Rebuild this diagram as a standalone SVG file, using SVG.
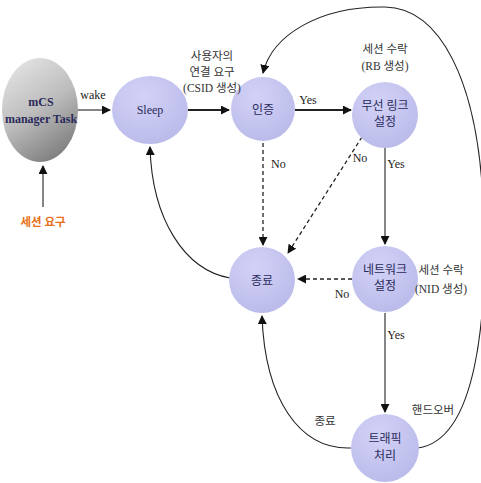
<svg xmlns="http://www.w3.org/2000/svg" width="481" height="483" viewBox="0 0 481 483">
<defs>
<radialGradient id="gs" cx="0.4" cy="0.3" r="0.75">
<stop offset="0" stop-color="#d2d2f7"/>
<stop offset="1" stop-color="#babaea"/>
</radialGradient>
<linearGradient id="gg" x1="0.2" y1="0" x2="0.7" y2="1">
<stop offset="0" stop-color="#e4e4e4"/>
<stop offset="0.5" stop-color="#bdbdbd"/>
<stop offset="1" stop-color="#7c7c7c"/>
</linearGradient>
<marker id="ah" viewBox="0 0 10 10" refX="9" refY="5" markerWidth="9" markerHeight="9" markerUnits="userSpaceOnUse" orient="auto">
<path d="M0,0 L10,5 L0,10 z" fill="#111"/>
</marker>
</defs>
<style>
.n{fill:url(#gs);}
.e{fill:none;stroke:#222;stroke-width:1.1;}
.eb{fill:none;stroke:#222;stroke-width:1.8;}
.d{fill:none;stroke:#222;stroke-width:1.3;stroke-dasharray:4,3;}
.t{font-family:"Liberation Serif","Noto Sans CJK KR",serif;font-size:12px;fill:#222;text-anchor:middle;}
.k{font-family:"Liberation Serif","Noto Sans CJK KR",serif;font-size:11.5px;fill:#333;text-anchor:middle;}
.nt{font-family:"Liberation Serif","Noto Sans CJK KR",serif;font-size:12px;fill:#2a2a5a;text-anchor:middle;}
.nk{font-family:"Liberation Serif","Noto Sans CJK KR",serif;font-size:12px;fill:#2a2a5a;text-anchor:middle;}
</style>
<g id="connectors">
<line class="e" x1="43" y1="207" x2="43" y2="166" marker-end="url(#ah)"/>
<line class="e" x1="78" y1="110" x2="110" y2="110" marker-end="url(#ah)"/>
<line class="eb" x1="188" y1="110" x2="229" y2="110" marker-end="url(#ah)"/>
<line class="eb" x1="295" y1="110" x2="351" y2="110" marker-end="url(#ah)"/>
<line class="e" x1="385" y1="148" x2="385" y2="244" marker-end="url(#ah)"/>
<line class="e" x1="385" y1="313" x2="385" y2="412" marker-end="url(#ah)"/>
<line class="d" x1="263" y1="143" x2="263" y2="245" marker-end="url(#ah)"/>
<line class="d" x1="362" y1="137" x2="288" y2="253" marker-end="url(#ah)"/>
<line class="d" x1="352" y1="279" x2="298" y2="279" marker-end="url(#ah)"/>
<path class="e" d="M230,278 C185,270 152,220 150,147" marker-end="url(#ah)"/>
<path class="e" d="M351,448 C300,450 265,400 262,316" marker-end="url(#ah)"/>
<path class="e" d="M418,448 C476,440 489,320 483,200 C477,80 440,8 385,7 C320,6 272,35 263,73" marker-end="url(#ah)"/>
</g>
<g id="mcs">
<ellipse cx="40" cy="110" rx="38" ry="52" fill="url(#gg)"/>
<text class="nt" x="41" y="106" font-weight="bold">mCS</text>
<text class="nt" x="41" y="123" font-weight="bold">manager Task</text>
</g>
<g id="sleep">
<ellipse class="n" cx="150" cy="110" rx="38" ry="34"/>
<text class="nt" x="150" y="114">Sleep</text>
</g>
<g id="auth">
<circle class="n" cx="263" cy="109" r="32"/>
<text class="nk" x="263" y="114">인증</text>
</g>
<g id="radio">
<circle class="n" cx="385" cy="115" r="33"/>
<text class="nk" x="385" y="110">무선 링크</text>
<text class="nk" x="385" y="126">설정</text>
</g>
<g id="end">
<circle class="n" cx="262" cy="280" r="33"/>
<text class="nk" x="262" y="285">종료</text>
</g>
<g id="network">
<circle class="n" cx="385" cy="279" r="33"/>
<text class="nk" x="385" y="274">네트워크</text>
<text class="nk" x="385" y="290">설정</text>
</g>
<g id="traffic">
<circle class="n" cx="385" cy="448" r="34"/>
<text class="nk" x="385" y="443">트래픽</text>
<text class="nk" x="385" y="460">처리</text>
</g>
<g id="labels">
<text class="k" x="43" y="226" style="fill:#e8701a;font-weight:bold">세션 요구</text>
<text class="t" x="93" y="99">wake</text>
<text class="k" x="212" y="60">사용자의</text>
<text class="k" x="212" y="76">연결 요구</text>
<text class="k" x="212" y="92">(CSID 생성)</text>
<text class="t" x="308" y="104">Yes</text>
<text class="k" x="385" y="53">세션 수락</text>
<text class="k" x="385" y="70">(RB 생성)</text>
<text class="t" x="271" y="168" style="text-anchor:start">No</text>
<text class="t" x="360" y="162">No</text>
<text class="t" x="396" y="168">Yes</text>
<text class="k" x="441" y="274">세션 수락</text>
<text class="k" x="441" y="293">(NID 생성)</text>
<text class="t" x="342" y="298">No</text>
<text class="t" x="396" y="339">Yes</text>
<text class="k" x="325" y="425">종료</text>
<text class="k" x="433" y="414">핸드오버</text>
</g>
</svg>
